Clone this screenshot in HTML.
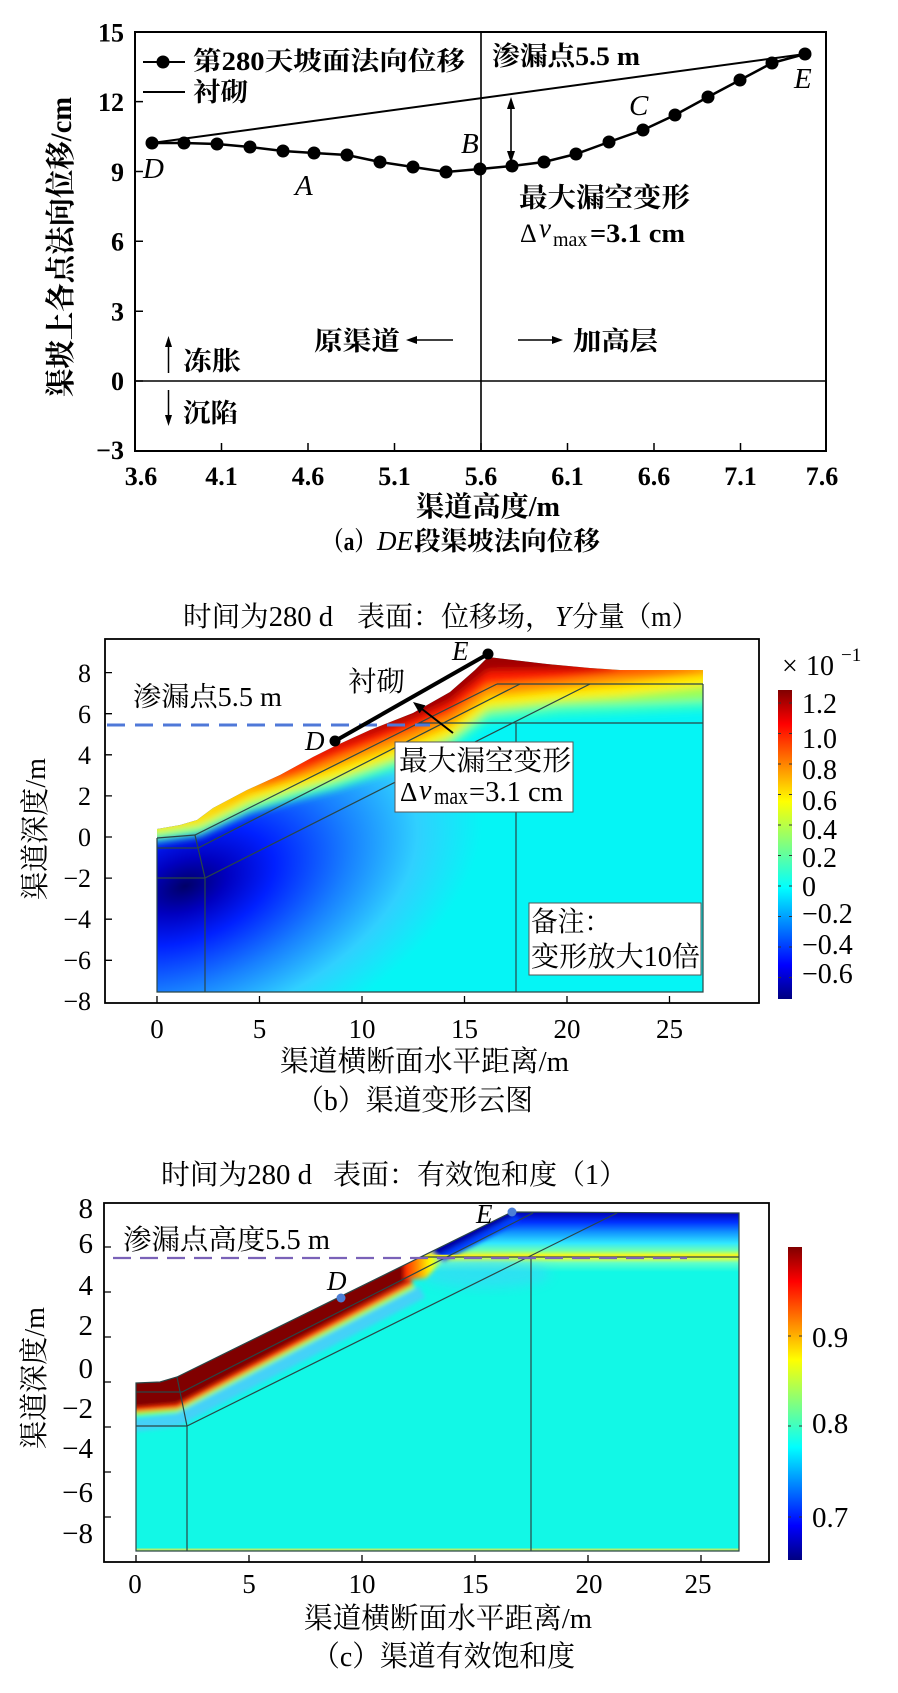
<!DOCTYPE html>
<html><head><meta charset="utf-8"><style>html,body{margin:0;padding:0;background:#fff}svg{display:block}</style></head>
<body>
<svg width="898" height="1693" viewBox="0 0 898 1693" xmlns="http://www.w3.org/2000/svg" font-family="'Liberation Serif','Noto Serif CJK SC',serif">
<defs>
<linearGradient id="jet" x1="0" y1="0" x2="0" y2="1">
<stop offset="0" stop-color="#800000"/><stop offset="0.11" stop-color="#ff0000"/><stop offset="0.36" stop-color="#ffff00"/><stop offset="0.5" stop-color="#80ff80"/><stop offset="0.64" stop-color="#00ffff"/><stop offset="0.89" stop-color="#0000ff"/><stop offset="1" stop-color="#000080"/>
</linearGradient>
<radialGradient id="blueB" gradientUnits="userSpaceOnUse" cx="185" cy="886" r="310" gradientTransform="translate(185 886) rotate(-20) scale(1 0.58) translate(-185 -886)">
<stop offset="0" stop-color="#000068"/><stop offset="0.14" stop-color="#0000c0"/><stop offset="0.3" stop-color="#0020ff"/><stop offset="0.55" stop-color="#1880ff"/><stop offset="0.78" stop-color="#30d0ff"/><stop offset="1" stop-color="#05f5f5"/>
</radialGradient>
<linearGradient id="gUp" gradientUnits="userSpaceOnUse" x1="0" y1="1212" x2="0" y2="1272">
<stop offset="0" stop-color="#0000b0"/><stop offset="0.17" stop-color="#0030ff"/><stop offset="0.33" stop-color="#1090ff"/><stop offset="0.52" stop-color="#30e8ff"/><stop offset="0.64" stop-color="#70ffb0"/><stop offset="0.72" stop-color="#f0ff20"/><stop offset="0.77" stop-color="#e0ff40"/><stop offset="0.85" stop-color="#60ffc8"/><stop offset="1" stop-color="#12f8e6"/>
</linearGradient>
<linearGradient id="gEnd" gradientUnits="userSpaceOnUse" x1="402" y1="0" x2="442" y2="0">
<stop offset="0" stop-color="#ff1000"/><stop offset="0.4" stop-color="#ff9000"/><stop offset="0.7" stop-color="#ffff00"/><stop offset="1" stop-color="#90ff70"/>
</linearGradient>
<filter id="bl4" x="-20%" y="-20%" width="140%" height="140%"><feGaussianBlur stdDeviation="4"/></filter>
<filter id="bl2" x="-20%" y="-20%" width="140%" height="140%"><feGaussianBlur stdDeviation="2"/></filter>
<filter id="bl6" x="-30%" y="-30%" width="160%" height="160%"><feGaussianBlur stdDeviation="6"/></filter>
<clipPath id="clipB"><polygon points="157,829 180,825 197,820 213,808 247,790 280,775 313,757 335,746 370,730 413,713 450,692 475,670 488,657 513,660 547,664 590,668 620,670 703,670 703,992 157,992"/></clipPath>
<clipPath id="clipC"><polygon points="136,1383 160,1382 177,1377 512,1212 739,1213 739,1551 136,1551"/></clipPath>
</defs>

<!-- ================= PANEL (a) ================= -->
<rect x="135" y="32" width="691" height="419" fill="none" stroke="#000" stroke-width="2"/>
<path d="M135 101.6h8M135 171.5h8M135 241.3h8M135 311.2h8M135 381h8M221.5 451v-8M308 451v-8M394.5 451v-8M481 451v-8M567.5 451v-8M654 451v-8M740.5 451v-8" stroke="#000" stroke-width="1.5"/>
<path d="M481 32V451M135 381H826" stroke="#000" stroke-width="1.6"/>
<path d="M152 143L805 54" stroke="#000" stroke-width="2"/>
<polyline points="152,143 184,143 217,144 250,147 283,151 314,153 347,155 380,162 413,167 446,172 480,169 512,166 544,162 576,154 609,142 643,130 675,115 708,97 740,80 772,63 805,54" fill="none" stroke="#000" stroke-width="2.5"/>
<g fill="#000">
<circle cx="152" cy="143" r="6.5"/><circle cx="184" cy="143" r="6.5"/><circle cx="217" cy="144" r="6.5"/><circle cx="250" cy="147" r="6.5"/><circle cx="283" cy="151" r="6.5"/><circle cx="314" cy="153" r="6.5"/><circle cx="347" cy="155" r="6.5"/><circle cx="380" cy="162" r="6.5"/><circle cx="413" cy="167" r="6.5"/><circle cx="446" cy="172" r="6.5"/><circle cx="480" cy="169" r="6.5"/><circle cx="512" cy="166" r="6.5"/><circle cx="544" cy="162" r="6.5"/><circle cx="576" cy="154" r="6.5"/><circle cx="609" cy="142" r="6.5"/><circle cx="643" cy="130" r="6.5"/><circle cx="675" cy="115" r="6.5"/><circle cx="708" cy="97" r="6.5"/><circle cx="740" cy="80" r="6.5"/><circle cx="772" cy="63" r="6.5"/><circle cx="805" cy="54" r="6.5"/>
</g>
<!-- legend -->
<path d="M143 62H185M143 92H185" stroke="#000" stroke-width="2"/>
<circle cx="163" cy="62" r="6.5" fill="#000"/>
<g font-weight="bold" font-size="26">
<text x="193" y="70" textLength="272" lengthAdjust="spacingAndGlyphs">第280天坡面法向位移</text>
<text x="193" y="101" textLength="55" lengthAdjust="spacingAndGlyphs">衬砌</text>
<text x="492" y="65" textLength="148" lengthAdjust="spacingAndGlyphs">渗漏点5.5 m</text>
<text x="519" y="207" textLength="171" lengthAdjust="spacingAndGlyphs" font-size="27">最大漏空变形</text>
<text x="590" y="242" textLength="95" lengthAdjust="spacingAndGlyphs">=3.1 cm</text>
</g>
<text x="520" y="242" font-size="26">Δ</text>
<text x="539" y="237" font-size="27" font-style="italic">v</text>
<text x="553" y="246" font-size="20">max</text>
<!-- double arrow -->
<path d="M511 104V156" stroke="#000" stroke-width="1.6"/>
<polygon points="511,97 507,109 515,109" fill="#000"/>
<polygon points="511,163 507,151 515,151" fill="#000"/>
<!-- letters -->
<g font-style="italic" font-size="29">
<text x="143" y="178">D</text>
<text x="295" y="195">A</text>
<text x="461" y="153">B</text>
<text x="629" y="115">C</text>
<text x="794" y="88">E</text>
</g>
<!-- region labels -->
<g font-size="26" font-weight="bold">
<text x="314" y="350" textLength="86" lengthAdjust="spacingAndGlyphs">原渠道</text>
<text x="573" y="350" textLength="85" lengthAdjust="spacingAndGlyphs">加高层</text>
<text x="183" y="370" textLength="58" lengthAdjust="spacingAndGlyphs">冻胀</text>
<text x="183" y="422" textLength="55" lengthAdjust="spacingAndGlyphs">沉陷</text>
</g>
<path d="M414 340H453M518 340H555M168.5 345V373M168.5 390V417" stroke="#000" stroke-width="1.5"/>
<polygon points="406,340 417,336 417,344" fill="#000"/>
<polygon points="563,340 552,336 552,344" fill="#000"/>
<polygon points="168.5,336 165,347 172,347" fill="#000"/>
<polygon points="168.5,426 165,415 172,415" fill="#000"/>
<!-- tick labels -->
<g font-size="26" font-weight="bold" text-anchor="end">
<text x="124" y="41.5">15</text><text x="124" y="111">12</text><text x="124" y="181">9</text><text x="124" y="250.5">6</text><text x="124" y="320.5">3</text><text x="124" y="390">0</text><text x="124" y="459">−3</text>
</g>
<g font-size="26" font-weight="bold" text-anchor="middle">
<text x="141" y="485">3.6</text><text x="221.5" y="485">4.1</text><text x="308" y="485">4.6</text><text x="394.5" y="485">5.1</text><text x="481" y="485">5.6</text><text x="567.5" y="485">6.1</text><text x="654" y="485">6.6</text><text x="740.5" y="485">7.1</text><text x="822" y="485">7.6</text>
</g>
<text transform="translate(61 247) rotate(-90)" x="0" y="10" text-anchor="middle" font-size="30" font-weight="bold" textLength="300" lengthAdjust="spacingAndGlyphs">渠坡上各点法向位移/cm</text>
<text x="416" y="516" font-size="28" font-weight="bold" textLength="144" lengthAdjust="spacingAndGlyphs">渠道高度/m</text>
<text x="322" y="550" font-size="26" font-weight="bold" textLength="54" lengthAdjust="spacingAndGlyphs">（a）</text>
<text x="377" y="550" font-size="27" font-style="italic" textLength="36" lengthAdjust="spacingAndGlyphs">DE</text>
<text x="414" y="550" font-size="26" font-weight="bold" textLength="186" lengthAdjust="spacingAndGlyphs">段渠坡法向位移</text>

<!-- ================= PANEL (b) ================= -->
<text x="183" y="626" font-size="28" textLength="150" lengthAdjust="spacingAndGlyphs">时间为280 d</text>
<text x="357" y="626" font-size="28" textLength="196" lengthAdjust="spacingAndGlyphs">表面：位移场，</text>
<text x="555" y="626" font-size="28" font-style="italic">Y</text>
<text x="572" y="626" font-size="28" textLength="126" lengthAdjust="spacingAndGlyphs">分量（m）</text>

<g clip-path="url(#clipB)">
<rect x="150" y="640" width="560" height="360" fill="url(#blueB)"/>
<g filter="url(#bl4)">
<polygon fill="#30ffc8" points="150,815 200,800 250,765 300,731 335,702 413,661 450,634 488,591 560,616 620,626 710,630 710,710 620,714 560,716 488,723 450,750 413,765 335,790 300,799 250,813 200,836 150,843"/>
<polygon fill="#98ff58" points="150,821 200,806 250,771 300,738 335,709 413,669 450,642 488,600 560,626 620,636 710,640 710,700 620,704 560,706 488,714 450,742 413,757 335,783 300,792 250,807 200,830 150,837"/>
<polygon fill="#ffee00" points="150,825 200,811 250,777 300,743 335,714 413,675 450,648 488,607 560,632 620,644 710,654 710,686 620,696 560,700 488,707 450,736 413,751 335,778 300,787 250,801 200,825 150,833"/>
<polygon fill="#ff9400" points="150,829 200,817 250,785 300,751 335,724 413,685 450,658 488,617 560,642 620,656 710,666 710,674 620,684 560,690 488,697 450,726 413,741 335,768 300,779 250,793 200,819 150,829"/>
<polygon fill="#ff1a00" points="200,818 250,789 300,758 335,734 413,696 450,670 488,629 560,652 620,666 710,670 620,674 560,680 488,685 450,714 413,730 335,758 300,772 250,789"/>
<polygon fill="#a00000" points="300,765 335,744 413,707 450,682 488,643 560,662 620,670 560,670 488,671 450,702 413,719 335,748"/>
</g>
</g>
<!-- mesh lines b -->
<g fill="none" stroke="#2a4646" stroke-width="1.2">
<path d="M157 838V992H703V684"/>
<path d="M157 838L195 835L497 684"/>
<path d="M157 848H198L520 684"/>
<path d="M157 878H205L590 684"/>
<path d="M195 835L205 878V992"/>
<path d="M497 684H703"/>
<path d="M419 723H703"/>
<path d="M516 723V992"/>
</g>
<!-- dashed seepage line b -->
<path d="M107 725H430" stroke="#4f78d8" stroke-width="3" stroke-dasharray="18 10"/>
<!-- lining -->
<path d="M335 741L488 654" stroke="#000" stroke-width="4"/>
<circle cx="335" cy="741" r="5.5" fill="#000"/><circle cx="488" cy="654" r="5.5" fill="#000"/>
<text x="305" y="750" font-size="27" font-style="italic">D</text>
<text x="452" y="660" font-size="27" font-style="italic">E</text>
<text x="348" y="691" font-size="28" textLength="57" lengthAdjust="spacingAndGlyphs">衬砌</text>
<text x="133" y="706" font-size="27" textLength="149" lengthAdjust="spacingAndGlyphs">渗漏点5.5 m</text>
<path d="M453 733L420 707.5" stroke="#000" stroke-width="2"/>
<polygon points="413,702 425.5,705.4 419.5,713.3" fill="#000"/>
<!-- box 1 -->
<rect x="395" y="742" width="178" height="70" fill="#fff" stroke="#555" stroke-width="1"/>
<text x="399" y="770" font-size="28" textLength="172" lengthAdjust="spacingAndGlyphs">最大漏空变形</text>
<text x="400" y="801" font-size="27">Δ</text>
<text x="419" y="799" font-size="28" font-style="italic">v</text>
<text x="434" y="804" font-size="24" textLength="34" lengthAdjust="spacingAndGlyphs">max</text>
<text x="469" y="801" font-size="28" textLength="94" lengthAdjust="spacingAndGlyphs">=3.1 cm</text>
<!-- box 2 -->
<rect x="529" y="903" width="172" height="72" fill="#fff" stroke="#555" stroke-width="1"/>
<text x="531" y="931" font-size="28" textLength="80" lengthAdjust="spacingAndGlyphs">备注：</text>
<text x="531" y="966" font-size="28" textLength="169" lengthAdjust="spacingAndGlyphs">变形放大10倍</text>
<!-- frame b -->
<rect x="105" y="639" width="654" height="364" fill="none" stroke="#000" stroke-width="1.8"/>
<path d="M105 672.6h7M105 713.7h7M105 754.8h7M105 795.9h7M105 837h7M105 878.1h7M105 919.2h7M105 960.3h7M157 1003v-7M259.5 1003v-7M362 1003v-7M464.5 1003v-7M567 1003v-7M669.5 1003v-7" stroke="#000" stroke-width="1.3"/>
<g font-size="26" text-anchor="end">
<text x="91" y="682">8</text><text x="91" y="723">6</text><text x="91" y="764">4</text><text x="91" y="805">2</text><text x="91" y="846">0</text><text x="91" y="887">−2</text><text x="91" y="928">−4</text><text x="91" y="969">−6</text><text x="91" y="1010">−8</text>
</g>
<g font-size="27" text-anchor="middle">
<text x="157" y="1038">0</text><text x="259.5" y="1038">5</text><text x="362" y="1038">10</text><text x="464.5" y="1038">15</text><text x="567" y="1038">20</text><text x="669.5" y="1038">25</text>
</g>
<text transform="translate(35 829) rotate(-90)" x="0" y="10" text-anchor="middle" font-size="29" textLength="142" lengthAdjust="spacingAndGlyphs">渠道深度/m</text>
<text x="280" y="1071" font-size="29" textLength="289" lengthAdjust="spacingAndGlyphs">渠道横断面水平距离/m</text>
<text x="296" y="1110" font-size="29" textLength="237" lengthAdjust="spacingAndGlyphs">（b）渠道变形云图</text>
<!-- colorbar b -->
<rect x="778" y="690" width="14" height="309" fill="url(#jet)"/>
<path d="M778 703h3M778 733.5h3M778 764h3M778 794.5h3M778 825h3M778 855.5h3M778 886h3M778 916.5h3M778 947h3M778 977.5h3M792 703h-3M792 733.5h-3M792 764h-3M792 794.5h-3M792 825h-3M792 855.5h-3M792 886h-3M792 916.5h-3M792 947h-3M792 977.5h-3" stroke="#333" stroke-width="1"/>
<g font-size="28">
<text x="802" y="713">1.2</text><text x="802" y="748">1.0</text><text x="802" y="779">0.8</text><text x="802" y="810">0.6</text><text x="802" y="839">0.4</text><text x="802" y="867">0.2</text><text x="802" y="896">0</text><text x="802" y="923">−0.2</text><text x="802" y="954">−0.4</text><text x="802" y="983">−0.6</text>
<text x="782" y="675">×</text><text x="806" y="675">10</text>
</g>
<text x="841" y="661" font-size="19">−1</text>

<!-- ================= PANEL (c) ================= -->
<text x="161" y="1184" font-size="28" textLength="151" lengthAdjust="spacingAndGlyphs">时间为280 d</text>
<text x="333" y="1184" font-size="28" textLength="294" lengthAdjust="spacingAndGlyphs">表面：有效饱和度（1）</text>

<g clip-path="url(#clipC)">
<rect x="130" y="1205" width="615" height="350" fill="#12f8e6"/>
<rect x="400" y="1210" width="345" height="62" fill="url(#gUp)"/>
<ellipse cx="485" cy="1274" rx="65" ry="14" fill="#50c8ff" opacity="0.45" filter="url(#bl6)"/>
<g filter="url(#bl2)">
<path d="M416 1262L514 1211" stroke="#0040ff" stroke-width="24" fill="none"/>
<path d="M416 1262L514 1211" stroke="#0000a8" stroke-width="9" fill="none"/>
<path d="M128 1426L177 1420L422 1292" stroke="#58c0ff" stroke-width="13" fill="none" opacity="0.7"/>
<path d="M128 1414L177 1410L414 1286" stroke="#a0ff50" stroke-width="5" fill="none"/>
<path d="M128 1410L177 1406L412 1282" stroke="#ff3000" stroke-width="5" fill="none"/>
<polygon points="128,1375 177,1370 410,1252 410,1280 177,1404 128,1408" fill="#800000"/>
<polygon points="404,1256 430,1251 442,1261 426,1278 404,1280" fill="url(#gEnd)"/>
</g>
<path d="M421 1256H739" stroke="#f4f020" stroke-width="2.5"/>
<path d="M136 1550H739" stroke="#b0f070" stroke-width="3"/>
</g>
<!-- mesh lines c -->
<g fill="none" stroke="#2a4646" stroke-width="1.2">
<path d="M136 1383L160 1382L177 1377L512 1212L739 1213V1551H136Z"/>
<path d="M136 1392H182L533 1213"/>
<path d="M136 1426H187L617 1213"/>
<path d="M177 1377L187 1426V1551"/>
<path d="M421 1257H739"/>
<path d="M531 1257V1551"/>
</g>
<path d="M113 1258H687" stroke="#7a62b8" stroke-width="2.2" stroke-dasharray="18 9"/>
<circle cx="341" cy="1298" r="4.5" fill="#4c7fd6"/>
<circle cx="512" cy="1212" r="4.5" fill="#4c7fd6"/>
<text x="327" y="1290" font-size="27" font-style="italic">D</text>
<text x="476" y="1223" font-size="27" font-style="italic">E</text>
<text x="123" y="1249" font-size="28" textLength="207" lengthAdjust="spacingAndGlyphs">渗漏点高度5.5 m</text>
<!-- frame c -->
<rect x="104" y="1203" width="665" height="359" fill="none" stroke="#000" stroke-width="1.8"/>
<path d="M104 1247h7M104 1292h7M104 1337h7M104 1382h7M104 1427h7M104 1472h7M104 1517h7M136 1562v-7M249 1562v-7M362 1562v-7M475 1562v-7M588 1562v-7M701 1562v-7" stroke="#000" stroke-width="1.3"/>
<g font-size="29" text-anchor="end">
<text x="93" y="1218">8</text><text x="93" y="1253">6</text><text x="93" y="1295">4</text><text x="93" y="1335">2</text><text x="93" y="1378">0</text><text x="93" y="1418">−2</text><text x="93" y="1458">−4</text><text x="93" y="1502">−6</text><text x="93" y="1543">−8</text>
</g>
<g font-size="27" text-anchor="middle">
<text x="135" y="1593">0</text><text x="249" y="1593">5</text><text x="362" y="1593">10</text><text x="475" y="1593">15</text><text x="589" y="1593">20</text><text x="698" y="1593">25</text>
</g>
<text transform="translate(34 1378) rotate(-90)" x="0" y="10" text-anchor="middle" font-size="29" textLength="142" lengthAdjust="spacingAndGlyphs">渠道深度/m</text>
<text x="304" y="1628" font-size="29" textLength="288" lengthAdjust="spacingAndGlyphs">渠道横断面水平距离/m</text>
<text x="312" y="1666" font-size="29" textLength="263" lengthAdjust="spacingAndGlyphs">（c）渠道有效饱和度</text>
<!-- colorbar c -->
<rect x="788" y="1247" width="14" height="313" fill="url(#jet)"/>
<path d="M788 1336h3M788 1426h3M788 1517h3M802 1336h-3M802 1426h-3M802 1517h-3" stroke="#333" stroke-width="1"/>
<g font-size="29">
<text x="812" y="1347">0.9</text><text x="812" y="1433">0.8</text><text x="812" y="1527">0.7</text>
</g>
</svg>
</body></html>
